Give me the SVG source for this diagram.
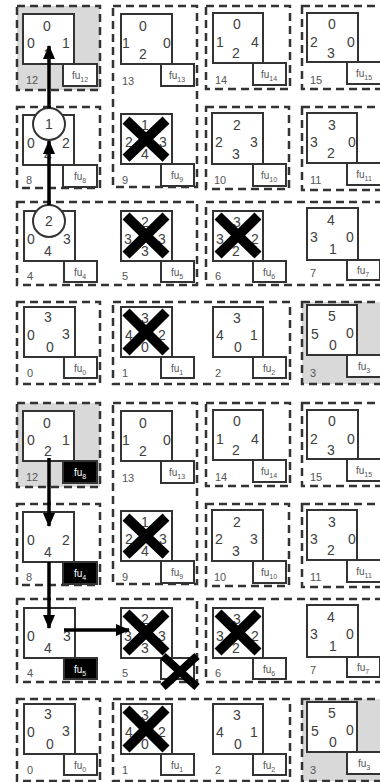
<svg xmlns="http://www.w3.org/2000/svg" width="380" height="782" viewBox="0 0 380 782">
<defs>
<style>
.db{fill:none;stroke:#333;stroke-width:2.5;stroke-dasharray:8 5}
.gr{fill:#d9d9d9}
.sq{fill:#fff;stroke:#333;stroke-width:2}
.fu{fill:#fff;stroke:#333;stroke-width:2}
.fub{fill:#000;stroke:#333;stroke-width:2}
text{font-family:'Liberation Sans',Arial,sans-serif}
.n{font-size:14px;fill:#404040;text-anchor:middle}
.lb{font-size:11px;fill:#555}
.ft{font-size:10px;fill:#555;text-anchor:middle}
.ftw{font-size:10px;fill:#fff;text-anchor:middle}
.x{stroke:#000;stroke-width:10}
.xs{stroke:#000;stroke-width:8}
.ar{stroke:#000;stroke-width:3.5;fill:none}
.ci{fill:#fff;stroke:#333;stroke-width:2}
</style>
<marker id="ah" markerUnits="userSpaceOnUse" viewBox="0 0 14 12" refX="13" refY="6" markerWidth="14" markerHeight="12" orient="auto">
<path d="M0,0 L14,6 L0,12 z" fill="#000"/>
</marker>
<g id="half">
<g id="frames">
<rect class="gr" x="17" y="6" width="83" height="84"/>
<rect class="gr" x="302" y="302" width="80" height="82"/>
<rect class="db" x="17" y="6" width="83" height="84"/>
<rect class="db" x="113" y="6" width="84" height="181"/>
<rect class="db" x="206" y="6" width="84" height="83"/>
<rect class="db" x="302" y="6" width="90" height="83"/>
<rect class="db" x="17" y="107" width="83" height="81"/>
<rect class="db" x="206" y="107" width="83" height="82"/>
<rect class="db" x="302" y="107" width="90" height="83"/>
<rect class="db" x="17" y="202" width="180" height="83"/>
<rect class="db" x="206" y="202" width="190" height="83"/>
<rect class="db" x="17" y="302" width="83" height="82"/>
<rect class="db" x="113" y="302" width="177" height="82"/>
<rect class="db" x="302" y="302" width="90" height="82"/>
</g>
</g>
</defs>

<!-- ================= TOP HALF ================= -->
<use href="#half"/>

<g id="t12">
<rect class="sq" x="23" y="14" width="51" height="50"/>
<text class="n" x="47" y="31">0</text><text class="n" x="31" y="48">0</text><text class="n" x="66" y="48">1</text><text class="n" x="48" y="59">2</text>
<rect class="fu" x="63" y="64" width="34" height="22"/><text class="ft" x="80" y="79">fu<tspan font-size="7" dy="3">12</tspan></text>
<text class="lb" x="26" y="84">12</text>
</g>
<g id="t13">
<rect class="sq" x="121" y="14" width="51" height="50"/>
<text class="n" x="143" y="31">0</text><text class="n" x="126" y="48">1</text><text class="n" x="167" y="48">0</text><text class="n" x="143" y="59">2</text>
<rect class="fu" x="161" y="64" width="33" height="22"/><text class="ft" x="177" y="79">fu<tspan font-size="7" dy="3">13</tspan></text>
<text class="lb" x="122" y="85">13</text>
</g>
<g id="t14">
<rect class="sq" x="213" y="13" width="50" height="50"/>
<text class="n" x="237" y="29">0</text><text class="n" x="220" y="47">1</text><text class="n" x="255" y="47">4</text><text class="n" x="236" y="58">2</text>
<rect class="fu" x="253" y="63" width="33" height="22"/><text class="ft" x="269" y="78">fu<tspan font-size="7" dy="3">14</tspan></text>
<text class="lb" x="215" y="84">14</text>
</g>
<g id="t15">
<rect class="sq" x="307" y="13" width="51" height="49"/>
<text class="n" x="332" y="29">0</text><text class="n" x="314" y="47">2</text><text class="n" x="351" y="47">0</text><text class="n" x="331" y="58">3</text>
<rect class="fu" x="347" y="62" width="34" height="22"/><text class="ft" x="364" y="77">fu<tspan font-size="7" dy="3">15</tspan></text>
<text class="lb" x="310" y="84">15</text>
</g>

<g id="t8">
<rect class="sq" x="23" y="115" width="51" height="50"/>
<text class="n" x="31" y="148">0</text><text class="n" x="66" y="148">2</text><text class="n" x="48" y="160">4</text>
<rect class="fu" x="63" y="165" width="34" height="22"/><text class="ft" x="80" y="180">fu<tspan font-size="7" dy="3">8</tspan></text>
<text class="lb" x="26" y="184">8</text>
<circle class="ci" cx="49" cy="124" r="16"/><text class="n" x="49" y="129">1</text>
</g>
<g id="t9">
<rect class="sq" x="121" y="114" width="51" height="50"/>
<text class="n" x="145" y="130">1</text><text class="n" x="129" y="147">2</text><text class="n" x="163" y="147">3</text><text class="n" x="145" y="159">4</text>
<rect class="fu" x="161" y="164" width="33" height="22"/><text class="ft" x="177" y="179">fu<tspan font-size="7" dy="3">9</tspan></text>
<text class="lb" x="122" y="184">9</text>
<path class="x" d="M126,120 L166,158 M166,120 L126,158"/>
</g>
<g id="t10">
<rect class="sq" x="212" y="113" width="51" height="51"/>
<text class="n" x="237" y="130">2</text><text class="n" x="219" y="147">2</text><text class="n" x="254" y="147">3</text><text class="n" x="236" y="159">3</text>
<rect class="fu" x="253" y="164" width="33" height="22"/><text class="ft" x="269" y="179">fu<tspan font-size="7" dy="3">10</tspan></text>
<text class="lb" x="214" y="184">10</text>
</g>
<g id="t11">
<rect class="sq" x="307" y="113" width="50" height="50"/>
<text class="n" x="332" y="130">3</text><text class="n" x="314" y="147">3</text><text class="n" x="352" y="147">0</text><text class="n" x="331" y="158">2</text>
<rect class="fu" x="347" y="163" width="34" height="22"/><text class="ft" x="364" y="178">fu<tspan font-size="7" dy="3">11</tspan></text>
<text class="lb" x="310" y="184">11</text>
</g>

<g id="t4">
<rect class="sq" x="24" y="211" width="51" height="50"/>
<text class="n" x="31" y="244">0</text><text class="n" x="67" y="244">3</text><text class="n" x="48" y="256">4</text>
<rect class="fu" x="64" y="261" width="33" height="21"/><text class="ft" x="80" y="276">fu<tspan font-size="7" dy="3">4</tspan></text>
<text class="lb" x="27" y="280">4</text>
<circle class="ci" cx="49" cy="221" r="16"/><text class="n" x="49" y="226">2</text>
</g>
<g id="t5">
<rect class="sq" x="121" y="211" width="51" height="50"/>
<text class="n" x="145" y="227">2</text><text class="n" x="128" y="244">3</text><text class="n" x="162" y="244">3</text><text class="n" x="145" y="256">3</text>
<rect class="fu" x="161" y="261" width="33" height="21"/><text class="ft" x="177" y="276">fu<tspan font-size="7" dy="3">5</tspan></text>
<text class="lb" x="122" y="280">5</text>
<path class="x" d="M126,216 L166,255 M166,216 L126,255"/>
</g>
<g id="t6">
<rect class="sq" x="213" y="211" width="50" height="50"/>
<text class="n" x="237" y="227">3</text><text class="n" x="220" y="244">3</text><text class="n" x="255" y="244">2</text><text class="n" x="236" y="256">2</text>
<rect class="fu" x="253" y="261" width="33" height="21"/><text class="ft" x="269" y="276">fu<tspan font-size="7" dy="3">6</tspan></text>
<text class="lb" x="215" y="280">6</text>
<path class="x" d="M218,216 L258,255 M258,216 L218,255"/>
</g>
<g id="t7">
<rect class="sq" x="307" y="208" width="51" height="52"/>
<text class="n" x="331" y="225">4</text><text class="n" x="314" y="242">3</text><text class="n" x="350" y="242">0</text><text class="n" x="333" y="254">1</text>
<rect class="fu" x="347" y="260" width="33" height="20"/><text class="ft" x="363" y="274">fu<tspan font-size="7" dy="3">7</tspan></text>
<text class="lb" x="310" y="277">7</text>
</g>

<g id="t0">
<rect class="sq" x="24" y="307" width="51" height="50"/>
<text class="n" x="48" y="322">3</text><text class="n" x="31" y="340">0</text><text class="n" x="66" y="339">3</text><text class="n" x="50" y="352">0</text>
<rect class="fu" x="64" y="357" width="33" height="21"/><text class="ft" x="80" y="372">fu<tspan font-size="7" dy="3">0</tspan></text>
<text class="lb" x="27" y="377">0</text>
</g>
<g id="t1">
<rect class="sq" x="121" y="307" width="51" height="50"/>
<text class="n" x="145" y="323">3</text><text class="n" x="129" y="340">4</text><text class="n" x="162" y="340">2</text><text class="n" x="145" y="352">0</text>
<rect class="fu" x="161" y="357" width="33" height="21"/><text class="ft" x="177" y="372">fu<tspan font-size="7" dy="3">1</tspan></text>
<text class="lb" x="122" y="377">1</text>
<path class="x" d="M126,312 L166,352 M166,312 L126,352"/>
</g>
<g id="t2">
<rect class="sq" x="213" y="307" width="50" height="50"/>
<text class="n" x="237" y="323">3</text><text class="n" x="220" y="340">4</text><text class="n" x="254" y="340">1</text><text class="n" x="238" y="352">0</text>
<rect class="fu" x="253" y="357" width="33" height="21"/><text class="ft" x="269" y="372">fu<tspan font-size="7" dy="3">2</tspan></text>
<text class="lb" x="215" y="377">2</text>
</g>
<g id="t3">
<rect class="sq" x="307" y="305" width="50" height="50"/>
<text class="n" x="332" y="321">5</text><text class="n" x="315" y="339">5</text><text class="n" x="350" y="338">0</text><text class="n" x="333" y="350">0</text>
<rect class="fu" x="347" y="355" width="34" height="22"/><text class="ft" x="364" y="370">fu<tspan font-size="7" dy="3">3</tspan></text>
<text class="lb" x="310" y="377">3</text>
</g>

<g id="connectors-top">
<line class="ar" x1="49" y1="108" x2="49" y2="46" marker-end="url(#ah)"/>
<line class="ar" x1="49" y1="205" x2="49" y2="141" marker-end="url(#ah)"/>
</g>

<!-- ================= BOTTOM HALF ================= -->
<g id="bottom" transform="translate(0,397)">
<use href="#half"/>
<g id="b12">
<rect class="sq" x="23" y="14" width="51" height="50"/>
<text class="n" x="47" y="31">0</text><text class="n" x="31" y="48">0</text><text class="n" x="66" y="48">1</text><text class="n" x="48" y="59">2</text>
<rect class="fub" x="63" y="64" width="34" height="22"/><text class="ftw" x="80" y="79">fu<tspan font-size="7" dy="3">8</tspan></text>
<text class="lb" x="26" y="84">12</text>
</g>
<g id="b13">
<rect class="sq" x="121" y="14" width="51" height="50"/>
<text class="n" x="143" y="31">0</text><text class="n" x="126" y="48">1</text><text class="n" x="167" y="48">0</text><text class="n" x="143" y="59">2</text>
<rect class="fu" x="161" y="64" width="33" height="22"/><text class="ft" x="177" y="79">fu<tspan font-size="7" dy="3">13</tspan></text>
<text class="lb" x="122" y="85">13</text>
</g>
<g id="b14">
<rect class="sq" x="213" y="13" width="50" height="50"/>
<text class="n" x="237" y="29">0</text><text class="n" x="220" y="47">1</text><text class="n" x="255" y="47">4</text><text class="n" x="236" y="58">2</text>
<rect class="fu" x="253" y="63" width="33" height="22"/><text class="ft" x="269" y="78">fu<tspan font-size="7" dy="3">14</tspan></text>
<text class="lb" x="215" y="84">14</text>
</g>
<g id="b15">
<rect class="sq" x="307" y="13" width="51" height="49"/>
<text class="n" x="332" y="29">0</text><text class="n" x="314" y="47">2</text><text class="n" x="351" y="47">0</text><text class="n" x="331" y="58">3</text>
<rect class="fu" x="347" y="62" width="34" height="22"/><text class="ft" x="364" y="77">fu<tspan font-size="7" dy="3">15</tspan></text>
<text class="lb" x="310" y="84">15</text>
</g>
<g id="b8">
<rect class="sq" x="23" y="115" width="51" height="50"/>
<text class="n" x="31" y="148">0</text><text class="n" x="66" y="148">2</text><text class="n" x="48" y="160">4</text>
<rect class="fub" x="63" y="165" width="34" height="22"/><text class="ftw" x="80" y="180">fu<tspan font-size="7" dy="3">4</tspan></text>
<text class="lb" x="26" y="184">8</text>
</g>
<g id="b9">
<rect class="sq" x="121" y="114" width="51" height="50"/>
<text class="n" x="145" y="130">1</text><text class="n" x="129" y="147">2</text><text class="n" x="163" y="147">3</text><text class="n" x="145" y="159">4</text>
<rect class="fu" x="161" y="164" width="33" height="22"/><text class="ft" x="177" y="179">fu<tspan font-size="7" dy="3">9</tspan></text>
<text class="lb" x="122" y="184">9</text>
<path class="x" d="M126,120 L166,158 M166,120 L126,158"/>
</g>
<g id="b10">
<rect class="sq" x="212" y="113" width="51" height="51"/>
<text class="n" x="237" y="130">2</text><text class="n" x="219" y="147">2</text><text class="n" x="254" y="147">3</text><text class="n" x="236" y="159">3</text>
<rect class="fu" x="253" y="164" width="33" height="22"/><text class="ft" x="269" y="179">fu<tspan font-size="7" dy="3">10</tspan></text>
<text class="lb" x="214" y="184">10</text>
</g>
<g id="b11">
<rect class="sq" x="307" y="113" width="50" height="50"/>
<text class="n" x="332" y="130">3</text><text class="n" x="314" y="147">3</text><text class="n" x="352" y="147">0</text><text class="n" x="331" y="158">2</text>
<rect class="fu" x="347" y="163" width="34" height="22"/><text class="ft" x="364" y="178">fu<tspan font-size="7" dy="3">11</tspan></text>
<text class="lb" x="310" y="184">11</text>
</g>
<g id="b4">
<rect class="sq" x="24" y="211" width="51" height="50"/>
<text class="n" x="31" y="244">0</text><text class="n" x="67" y="244">3</text><text class="n" x="48" y="256">4</text>
<rect class="fub" x="64" y="261" width="33" height="21"/><text class="ftw" x="80" y="276">fu<tspan font-size="7" dy="3">5</tspan></text>
<text class="lb" x="27" y="280">4</text>
</g>
<g id="b5">
<rect class="sq" x="121" y="211" width="51" height="50"/>
<text class="n" x="145" y="227">2</text><text class="n" x="128" y="244">3</text><text class="n" x="162" y="244">3</text><text class="n" x="145" y="256">3</text>
<rect class="fu" x="161" y="261" width="33" height="21"/>
<text class="lb" x="122" y="280">5</text>
<path class="x" d="M126,216 L166,255 M166,216 L126,255"/>
<path class="xs" d="M163,259 L197,290 M197,259 L163,290"/>
</g>
<g id="b6">
<rect class="sq" x="213" y="211" width="50" height="50"/>
<text class="n" x="237" y="227">3</text><text class="n" x="220" y="244">3</text><text class="n" x="255" y="244">2</text><text class="n" x="236" y="256">2</text>
<rect class="fu" x="253" y="261" width="33" height="21"/><text class="ft" x="269" y="276">fu<tspan font-size="7" dy="3">6</tspan></text>
<text class="lb" x="215" y="280">6</text>
<path class="x" d="M218,216 L258,255 M258,216 L218,255"/>
</g>
<g id="b7">
<rect class="sq" x="307" y="208" width="51" height="52"/>
<text class="n" x="331" y="225">4</text><text class="n" x="314" y="242">3</text><text class="n" x="350" y="242">0</text><text class="n" x="333" y="254">1</text>
<rect class="fu" x="347" y="260" width="33" height="20"/><text class="ft" x="363" y="274">fu<tspan font-size="7" dy="3">7</tspan></text>
<text class="lb" x="310" y="277">7</text>
</g>
<g id="b0">
<rect class="sq" x="24" y="307" width="51" height="50"/>
<text class="n" x="48" y="322">3</text><text class="n" x="31" y="340">0</text><text class="n" x="66" y="339">3</text><text class="n" x="50" y="352">0</text>
<rect class="fu" x="64" y="357" width="33" height="21"/><text class="ft" x="80" y="372">fu<tspan font-size="7" dy="3">0</tspan></text>
<text class="lb" x="27" y="377">0</text>
</g>
<g id="b1">
<rect class="sq" x="121" y="307" width="51" height="50"/>
<text class="n" x="145" y="323">3</text><text class="n" x="129" y="340">4</text><text class="n" x="162" y="340">2</text><text class="n" x="145" y="352">0</text>
<rect class="fu" x="161" y="357" width="33" height="21"/><text class="ft" x="177" y="372">fu<tspan font-size="7" dy="3">1</tspan></text>
<text class="lb" x="122" y="377">1</text>
<path class="x" d="M126,312 L166,352 M166,312 L126,352"/>
</g>
<g id="b2">
<rect class="sq" x="213" y="307" width="50" height="50"/>
<text class="n" x="237" y="323">3</text><text class="n" x="220" y="340">4</text><text class="n" x="254" y="340">1</text><text class="n" x="238" y="352">0</text>
<rect class="fu" x="253" y="357" width="33" height="21"/><text class="ft" x="269" y="372">fu<tspan font-size="7" dy="3">2</tspan></text>
<text class="lb" x="215" y="377">2</text>
</g>
<g id="b3">
<rect class="sq" x="307" y="305" width="50" height="50"/>
<text class="n" x="332" y="321">5</text><text class="n" x="315" y="339">5</text><text class="n" x="350" y="338">0</text><text class="n" x="333" y="350">0</text>
<rect class="fu" x="347" y="355" width="34" height="22"/><text class="ft" x="364" y="370">fu<tspan font-size="7" dy="3">3</tspan></text>
<text class="lb" x="310" y="377">3</text>
</g>
<g id="connectors-bottom">
<line class="ar" x1="49" y1="61" x2="49" y2="129" marker-end="url(#ah)"/>
<line class="ar" x1="49" y1="165" x2="49" y2="231" marker-end="url(#ah)"/>
<line class="ar" x1="64" y1="233" x2="129" y2="233" marker-end="url(#ah)"/>
</g>
</g>
</svg>
